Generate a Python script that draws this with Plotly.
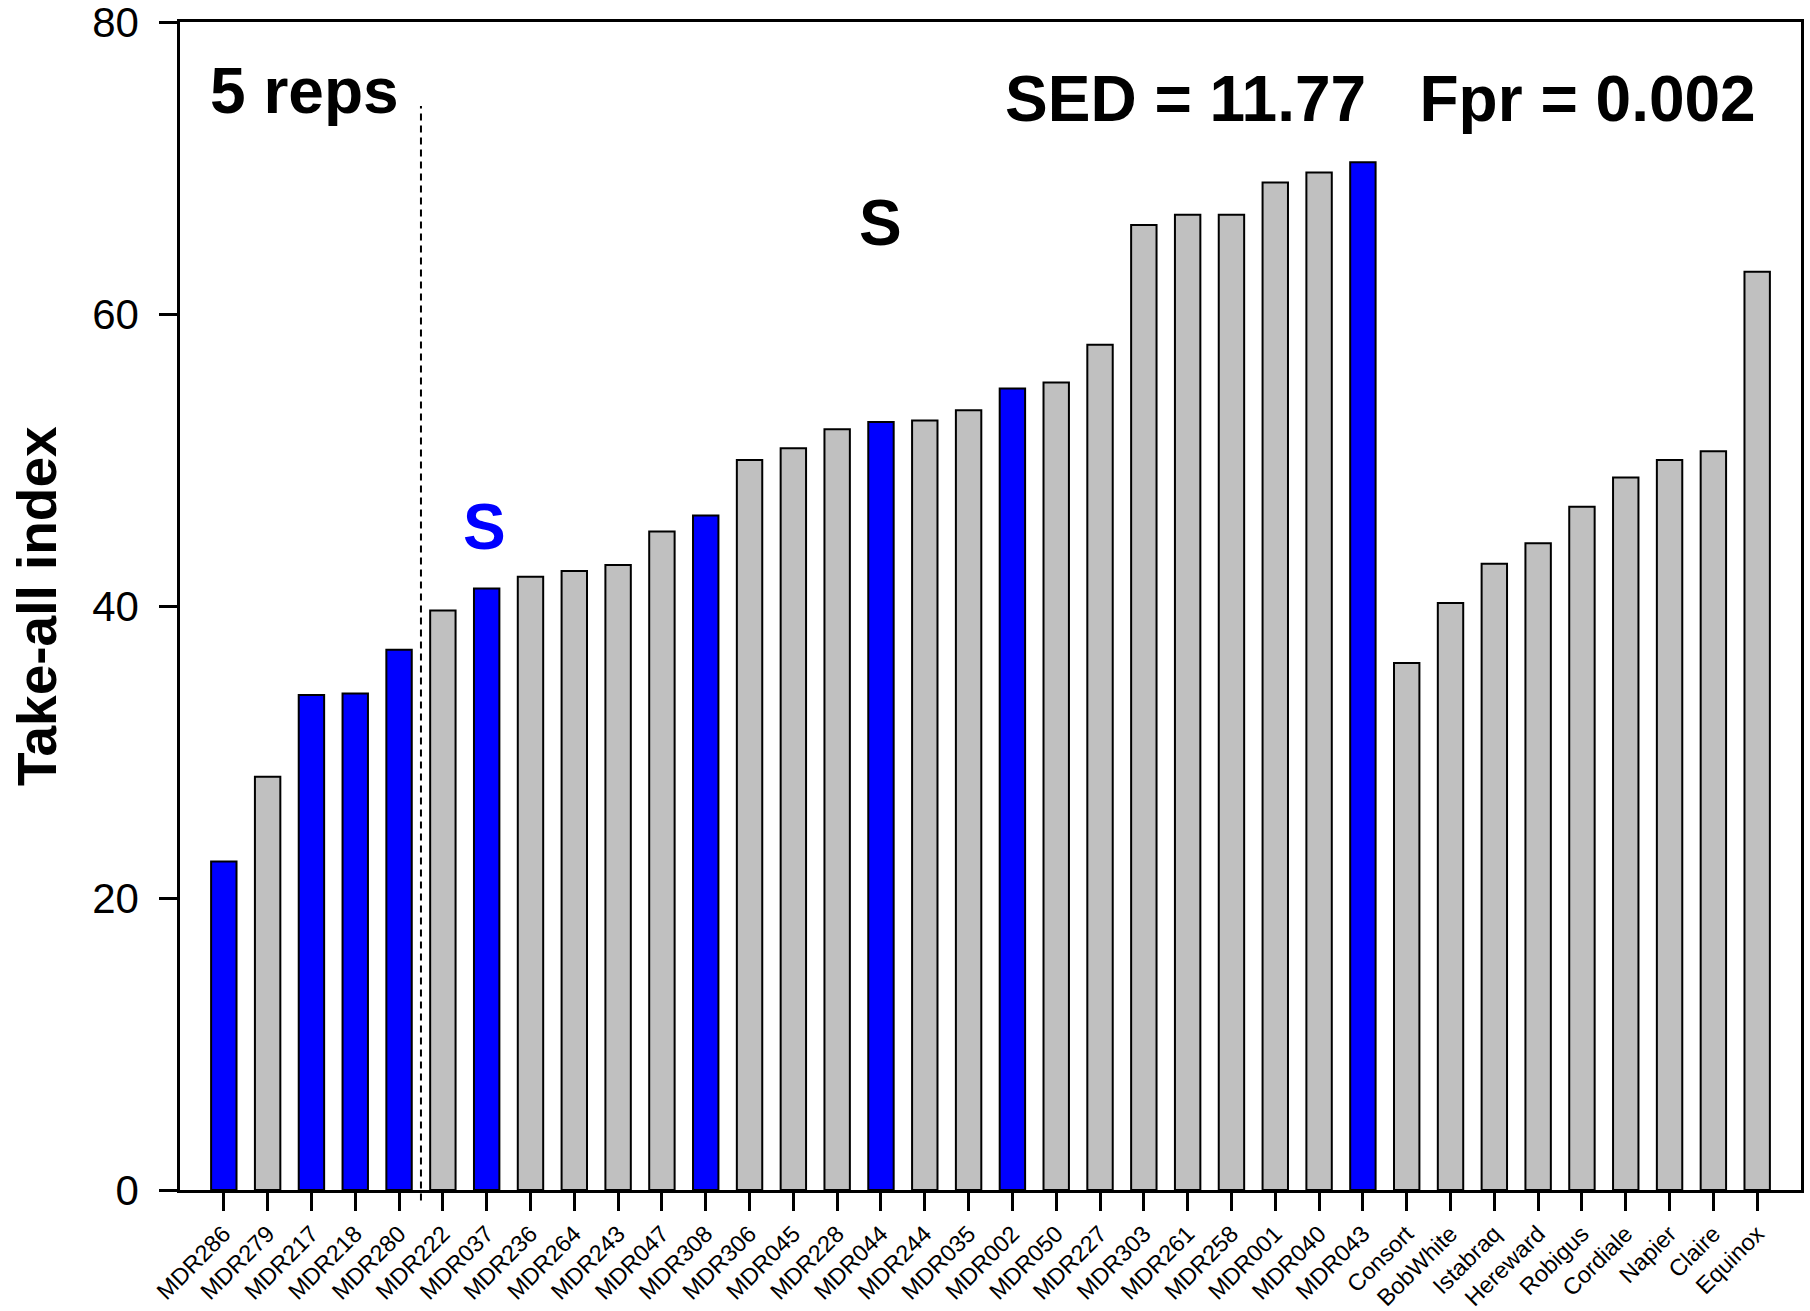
import plotly.graph_objects as go

# Take-all index per line / cultivar
lines = ["MDR286", "MDR279", "MDR217", "MDR218", "MDR280", "MDR222", "MDR037",
         "MDR236", "MDR264", "MDR243", "MDR047", "MDR308", "MDR306", "MDR045",
         "MDR228", "MDR044", "MDR244", "MDR035", "MDR002", "MDR050", "MDR227",
         "MDR303", "MDR261", "MDR258", "MDR001", "MDR040", "MDR043",
         "Consort", "BobWhite", "Istabraq", "Hereward", "Robigus", "Cordiale",
         "Napier", "Claire", "Equinox"]
take_all = [22.5, 28.3, 33.9, 34.0, 37.0, 39.7, 41.2,
            42.0, 42.4, 42.8, 45.1, 46.2, 50.0, 50.8,
            52.1, 52.6, 52.7, 53.4, 54.9, 55.3, 57.9,
            66.1, 66.8, 66.8, 69.0, 69.7, 70.4,
            36.1, 40.2, 42.9, 44.3, 46.8, 48.8,
            50.0, 50.6, 62.9]
highlighted = {"MDR286", "MDR217", "MDR218", "MDR280", "MDR037", "MDR308",
               "MDR044", "MDR002", "MDR043"}

y_ticks = [0, 20, 40, 60, 80]

FONT = "Arial, 'Liberation Sans', sans-serif"
BLUE = "#0000ff"
GREY = "#c0c0c0"

x_idx = list(range(len(lines)))
colors = [BLUE if name in highlighted else GREY for name in lines]

fig = go.Figure()
fig.add_trace(go.Bar(
    x=x_idx, y=take_all, width=0.58,
    marker=dict(color=colors, line=dict(color="black", width=2)),
    hoverinfo="x+y",
))

# split between the 5-rep group and the rest
fig.add_shape(type="line", xref="x", yref="paper",
              x0=4.5, x1=4.5, y0=-0.009, y1=0.928,
              line=dict(color="black", width=2, dash="7px,5px"))

bold = dict(family=FONT, size=64, color="black")
fig.add_annotation(x=1.85, y=75.25, xref="x", yref="y", text="<b>5 reps</b>",
                   showarrow=False, font=bold, xanchor="center", yanchor="middle")
fig.add_annotation(x=26.4, y=74.75, xref="x", yref="y",
                   text="<b>SED = 11.77   Fpr = 0.002</b>",
                   showarrow=False, font=bold, xanchor="center", yanchor="middle")
fig.add_annotation(x=15.0, y=66.2, xref="x", yref="y", text="<b>S</b>",
                   showarrow=False, font=bold, xanchor="center", yanchor="middle")
fig.add_annotation(x=5.95, y=45.4, xref="x", yref="y", text="<b>S</b>",
                   showarrow=False, font=dict(family=FONT, size=64, color=BLUE),
                   xanchor="center", yanchor="middle")

# y-axis title
fig.add_annotation(x=-0.0882, y=0.5, xref="paper", yref="paper",
                   text="<b>Take-all index</b>", textangle=-90,
                   showarrow=False, font=dict(family=FONT, size=55, color="black"),
                   xanchor="center", yanchor="middle")

fig.update_layout(
    width=1810, height=1311,
    margin=dict(l=180, r=9, t=22, b=121),
    paper_bgcolor="white", plot_bgcolor="white",
    showlegend=False, bargap=0.4,
    font=dict(family=FONT, color="black"),
)
fig.update_xaxes(
    range=[-1, 36], tickmode="array", tickvals=x_idx, ticktext=lines,
    tickangle=-45, tickfont=dict(size=23.5, family=FONT),
    ticks="outside", ticklen=18, tickwidth=2.5, tickcolor="black",
    showline=True, linewidth=2.5, linecolor="black", mirror=True,
    showgrid=False, zeroline=False, automargin=False,
    ticklabeloverflow="allow",
)
fig.update_yaxes(
    range=[0, 80], tickmode="array", tickvals=y_ticks,
    tickfont=dict(size=42, family=FONT), ticklabelstandoff=12,
    ticks="outside", ticklen=18, tickwidth=2.5, tickcolor="black",
    showline=True, linewidth=2.5, linecolor="black", mirror=True,
    showgrid=False, zeroline=False, automargin=False,
    ticklabeloverflow="allow",
)

fig.write_html("out.html")
